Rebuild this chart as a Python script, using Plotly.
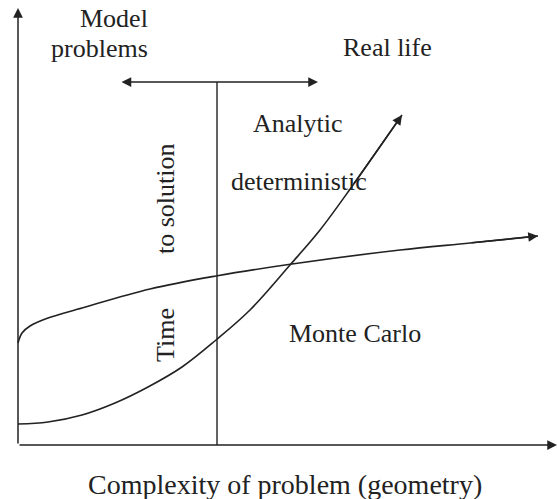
import plotly.graph_objects as go

# Schematic data (x = complexity, y = time to solution), arbitrary units
det_x = [0, 30, 64, 97, 130, 164, 198, 232, 272, 302, 335, 384]
det_y = [21, 23, 30, 42, 58, 78, 105, 135, 180, 215, 260, 330]

mc_x = [0, 4, 12, 30, 64, 132, 198, 274, 382, 452, 520]
mc_y = [102, 112, 119, 127, 137, 156, 169, 181, 195, 202, 209]

x_axis_end = 539
y_axis_end = 437
split_x = 199
range_y = 363
range_left = 102
range_right = 300

INK = "#222222"
FONT = "Liberation Serif, Times New Roman, serif"

fig = go.Figure()
fig.add_trace(go.Scatter(x=det_x, y=det_y, mode="lines", line=dict(color=INK, width=1.6, shape="spline"),
                         hoverinfo="skip", showlegend=False))
fig.add_trace(go.Scatter(x=mc_x, y=mc_y, mode="lines", line=dict(color=INK, width=1.6, shape="spline"),
                         hoverinfo="skip", showlegend=False))
# vertical split line
fig.add_trace(go.Scatter(x=[split_x, split_x], y=[0, range_y], mode="lines", line=dict(color=INK, width=1.4),
                         hoverinfo="skip", showlegend=False))

ann = []

def arrow(x0, y0, x1, y1, side="end", size=1.3):
    ann.append(dict(x=x1, y=y1, ax=x0, ay=y0, xref="x", yref="y", axref="x", ayref="y",
                    text="", showarrow=True, arrowhead=2, arrowsize=size, arrowwidth=1.5,
                    arrowcolor=INK, arrowside=side, standoff=0, startstandoff=0))

# axes
arrow(0, 0, 0, y_axis_end)
arrow(0, 0, x_axis_end, 0)
# double arrow
arrow(range_left, range_y, range_right, range_y, side="end+start")
# curve end arrows
arrow(det_x[-2], det_y[-2], det_x[-1], det_y[-1])
arrow(mc_x[-2], mc_y[-2], mc_x[-1], mc_y[-1])

def label(text, x, y, size=26, angle=0):
    ann.append(dict(x=x, y=y, xref="x", yref="y", text=text, showarrow=False, textangle=angle,
                    font=dict(family=FONT, size=size, color=INK), xanchor="center", yanchor="middle"))

label("Model", 96, 427)
label("problems", 81, 397)
label("Real life", 369, 398)
label("Analytic", 280, 322)
label("deterministic", 281, 264)
label("to solution", 147, 246, angle=-90)
label("Time", 147, 110, angle=-90)
label("Monte Carlo", 337, 112)
label("Complexity of problem (geometry)", 267, -39, size=28)

fig.update_layout(
    width=557, height=499,
    margin=dict(l=0, r=0, t=0, b=0),
    paper_bgcolor="white", plot_bgcolor="white",
    xaxis=dict(range=[-18, 539], visible=False, fixedrange=True),
    yaxis=dict(range=[-54, 445], visible=False, fixedrange=True),
    annotations=ann,
    showlegend=False,
)

# remove the page's default body margin so the figure fills the window exactly
fig.write_html("out.html", config={"displayModeBar": False},
               post_script="document.body.style.margin='0px';")
